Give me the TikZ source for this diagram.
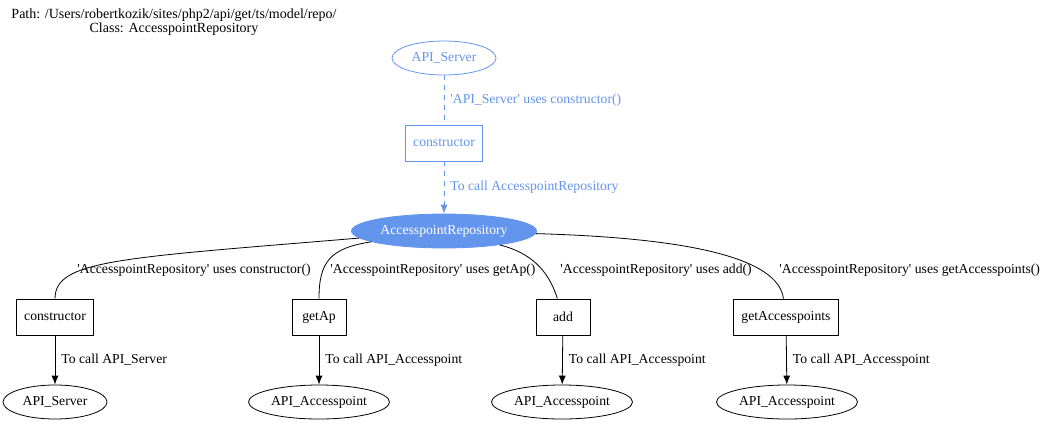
\documentclass[tikz,border=0pt]{standalone}
\usepackage{fontspec}
\setmainfont{Liberation Serif}
\usetikzlibrary{shapes.geometric,arrows.meta}
\definecolor{cfblue}{HTML}{6495ED}
\newcommand{\sq}{\textquotesingle}

\begin{document}
\begin{tikzpicture}[x=1pt, y=-1pt, >={Latex[length=9pt,width=7pt]},
    line width=0.8pt, font=\fontsize{13.7}{14}\selectfont]
    \tikzstyle{fn}=[draw, rectangle, minimum width=54, minimum height=36,
      inner xsep=8pt]
    \tikzstyle{api}=[draw, ellipse, minimum height=34, minimum width=141,
      inner sep=0pt]
    \tikzstyle{elbl}=[right, inner sep=1pt, xshift=5pt]
    \tikzstyle{clbl}=[anchor=west, inner sep=1pt]
    \useasboundingbox (0,0) rectangle (1050,424);
    \draw (174,22) node[align=center, font=\fontsize{14}{14}\selectfont] (path)
      {Path: /Users/robertkozik/sites/php2/api/get/ts/model/repo/\\
       Class: AccesspointRepository};
    % caller of the repository
    \draw (444,58)  node[api, minimum width=104, draw=cfblue, text=cfblue] (srv)
      {API\_Server};
    \draw (444,143) node[fn, draw=cfblue, text=cfblue] (ctor) {constructor};
    \draw (444,231) node[api, minimum width=185, draw=cfblue, fill=cfblue,
      text=white] (repo) {AccesspointRepository};
    \draw[cfblue, dash pattern=on 5pt off 5pt] (srv) --
      node[elbl, text=cfblue] {\sq API\_Server\sq\ uses constructor()} (ctor);
    \draw[->, cfblue, dash pattern=on 5pt off 5pt] (ctor) --
      node[elbl, text=cfblue] {To call AccesspointRepository} (repo);
    % methods used by the repository
    \draw (55,317)  node[fn] (fcons) {constructor};
    \draw (319,317) node[fn] (fgetap) {getAp};
    \draw (563,317) node[fn] (fadd) {add};
    \draw (786,317) node[fn] (fgetaps) {getAccesspoints};
    \draw (55,402)  node[api, minimum width=104] (srvB) {API\_Server};
    \draw (319,402) node[api] (apA) {API\_Accesspoint};
    \draw (562,402) node[api] (apB) {API\_Accesspoint};
    \draw (787,402) node[api] (apC) {API\_Accesspoint};
    \draw (repo) .. controls (120,258) and (55,260) .. (fcons)
      node[clbl] at (76,270) {\sq AccesspointRepository\sq\ uses constructor()};
    \draw (repo) .. controls (330,248) and (319,262) .. (fgetap)
      node[clbl] at (329,270) {\sq AccesspointRepository\sq\ uses getAp()};
    \draw (repo) .. controls (528,252) and (548,268) .. (fadd)
      node[clbl] at (559,270) {\sq AccesspointRepository\sq\ uses add()};
    \draw (repo) .. controls (690,238) and (778,258) .. (fgetaps)
      node[clbl] at (778,270) {\sq AccesspointRepository\sq\ uses getAccesspoints()};
    \draw[->] (fcons) -- node[elbl] {To call API\_Server} (srvB);
    \draw[->] (fgetap) -- node[elbl] {To call API\_Accesspoint} (apA);
    \draw[->] (fadd) -- node[elbl] {To call API\_Accesspoint} (apB);
    \draw[->] (fgetaps) -- node[elbl] {To call API\_Accesspoint} (apC);
  \end{tikzpicture}
\end{document}
